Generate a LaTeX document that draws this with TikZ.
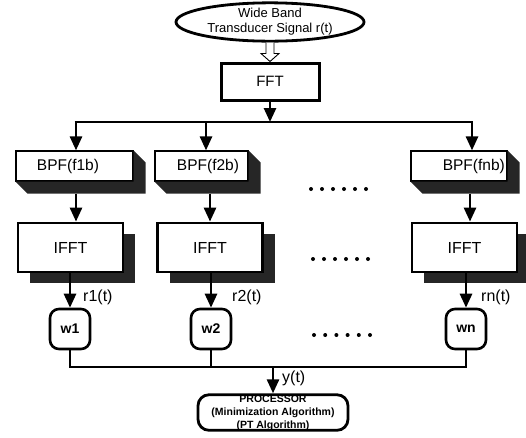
\documentclass[tikz,border=0pt]{standalone}
\usepackage{fontspec}
\setmainfont{Liberation Sans}
\usetikzlibrary{arrows.meta,shapes.geometric,calc,shadows}
\begin{document}
\begin{tikzpicture}[x=1pt,y=-1pt,
  conn/.style={line width=2.7pt,-{Triangle[length=14pt,width=12pt]}},
  busline/.style={line width=2.7pt},
  bpfbox/.style={draw,line width=1.2pt,fill=white,minimum height=30pt,inner sep=0pt},
  ifftbox/.style={draw,line width=2.8pt,fill=white,minimum width=105pt,minimum height=49pt,inner sep=0pt,
     font=\fontsize{16}{18}\selectfont,
     drop shadow={shadow xshift=12pt,shadow yshift=-11pt,fill=black!85,opacity=1}},
  wbox/.style={draw,line width=2.6pt,rounded corners=9pt,fill=white,minimum width=40pt,minimum height=40pt,
     inner sep=0pt,font=\fontsize{14}{16}\selectfont\bfseries},
  lbl/.style={font=\fontsize{16}{18}\selectfont,inner sep=0pt},
  bpftext/.style={font=\fontsize{15.5}{18}\selectfont,inner sep=0pt},
  extr/.style={fill=black!85},
  dotmark/.style={fill=black}
]
\useasboundingbox (0,0) rectangle (526,437);

% source ellipse
\node[draw,ellipse,line width=2.8pt,minimum width=188pt,minimum height=38pt,inner sep=0pt,
  align=center,font=\fontsize{13}{15}\selectfont] (sig) at (270,22) {Wide Band\\Transducer Signal r(t)};

% FFT
\node[draw,line width=3pt,fill=white,minimum width=98pt,minimum height=37pt,inner sep=0pt,
  font=\fontsize{15}{18}\selectfont] (fft) at (270,81.5) {FFT};

% hollow arrow
\draw[line width=0.9pt,fill=white]
  ($(sig.south)+(-4,0)$) -- ($(fft.north)+(-4,-8)$) -- ($(fft.north)+(-9,-8)$) -- (fft.north)
  -- ($(fft.north)+(9,-8)$) -- ($(fft.north)+(4,-8)$) -- ($(sig.south)+(4,0)$);

% top bus
\coordinate (b1) at (76,122);
\coordinate (b2) at (206,122);
\coordinate (b3) at (472,122);
\draw[conn] (fft.south) -- (fft.south |- b1);
\draw[busline] ($(b1)+(-1.35,0)$) -- ($(b3)+(1.35,0)$);

% BPF boxes
\node[bpfbox,minimum width=117pt] (bpf1) at (74.5,166) {};
\node[bpfbox,minimum width=93pt] (bpf2) at (201.5,166) {};
\node[bpfbox,minimum width=96pt] (bpf3) at (459,166) {};
\foreach \b in {bpf1,bpf2,bpf3}{
  \fill[extr] (\b.north east) -- ++(12,12) -- ($(\b.south east)+(12,12)$) -- ($(\b.south west)+(12,12)$)
     -- (\b.south west) -- (\b.south east) -- cycle;
}
\node[bpftext] (t1) at (68,166) {BPF(f1b)};
\node[bpftext] (t2) at (208,166) {BPF(f2b)};
\node[bpftext,anchor=east] (t3) at (505,166) {BPF(fnb)};

\draw[conn] (b1) -- (b1 |- bpf1.north);
\draw[conn] (b2) -- (b2 |- bpf2.north);
\draw[conn] (b3) -- (b3 |- bpf3.north);

% IFFT boxes
\node[ifftbox] (ifft1) at (70.5,247.5) {IFFT};
\node[ifftbox] (ifft2) at (210,247.5) {IFFT};
\node[ifftbox] (ifft3) at (464.5,247.5) {IFFT};

\coordinate (m1) at ($(bpf1.south)+(1.5,12)$);
\coordinate (m2) at ($(bpf2.south)+(8.5,12)$);
\coordinate (m3) at ($(bpf3.south)+(11,12)$);
\draw[conn] (m1) -- (m1 |- ifft1.north);
\draw[conn] (m2) -- (m2 |- ifft2.north);
\draw[conn] (m3) -- (m3 |- ifft3.north);

% weights
\node[wbox] (w1) at (70,329) {w1};
\node[wbox] (w2) at (211,329) {w2};
\node[wbox] (wn) at (466,329) {wn};
\draw[conn] (ifft1.south -| w1) -- (w1.north);
\draw[conn] (ifft2.south -| w2) -- (w2.north);
\draw[conn] (ifft3.south -| wn) -- (wn.north);

\node[lbl,anchor=west] (r1) at (83,297) {r1(t)};
\node[lbl,anchor=west] (r2) at (232,297) {r2(t)};
\node[lbl,anchor=west] (rn) at (481,297) {rn(t)};

% bottom bus
\coordinate (c1) at (70,367);
\coordinate (cn) at (466,367);
\draw[busline] (w1.south) -- (c1) -- (cn) -- (wn.south);
\draw[busline] (w2.south) -- (w2.south |- c1);

% processor
\node[draw,line width=2.8pt,rounded corners=11pt,fill=white,minimum width=150pt,minimum height=35pt,
  inner sep=0pt,align=center,font=\fontsize{10.5}{13}\selectfont\bfseries] (proc) at (273,412.5)
  {PROCESSOR\\(Minimization Algorithm)\\(PT Algorithm)};
\coordinate (yc) at (273,367);
\draw[conn] (yc) -- (proc.north);
\node[lbl,anchor=west] (ylab) at (282,378) {y(t)};

% ellipsis dots
\foreach \i in {0,...,5}{
  \fill[dotmark] (311+11*\i,189) circle (2);
  \fill[dotmark] (313+11*\i,259) circle (2);
  \fill[dotmark] (314+11.2*\i,335) circle (2);
}
\end{tikzpicture}
\end{document}
